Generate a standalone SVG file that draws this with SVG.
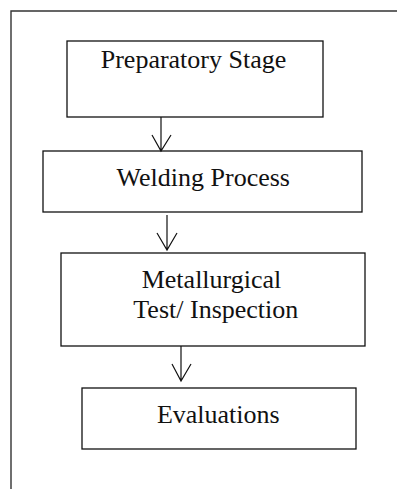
<svg xmlns="http://www.w3.org/2000/svg" width="397" height="489" viewBox="0 0 397 489">
<style>
.box{fill:#fff;stroke:#111;stroke-width:1.3}
.lbl{font-family:"Liberation Serif","Times New Roman",serif;font-size:26px;fill:#111;text-anchor:middle}
.con{fill:none;stroke:#111;stroke-width:1.2}
</style>
<rect width="397" height="489" fill="#fff"/>
<path d="M11,489 V11 H397" fill="none" stroke="#333" stroke-width="1.4"/>
<g id="n1"><rect class="box" x="67" y="41" width="256" height="76"/><text class="lbl" x="193.5" y="68">Preparatory Stage</text></g>
<g id="n2"><rect class="box" x="43" y="151" width="319" height="61"/><text class="lbl" x="203.3" y="186">Welding Process</text></g>
<g id="n3"><rect class="box" x="61" y="253" width="304" height="93"/><text class="lbl" x="211.5" y="287.5">Metallurgical</text><text class="lbl" x="215.8" y="318">Test/ Inspection</text></g>
<g id="n4"><rect class="box" x="82" y="388" width="274" height="61"/><text class="lbl" x="218.3" y="422.5">Evaluations</text></g>
<g id="connectors">
<path class="con" d="M161,117 V151 M152,135 L161,151 L171,135"/>
<path class="con" d="M167,215 V250 M157,233 L167,250 L177,233"/>
<path class="con" d="M181,346 V381 M172,364 L181,381 L191,364"/>
</g>
</svg>
